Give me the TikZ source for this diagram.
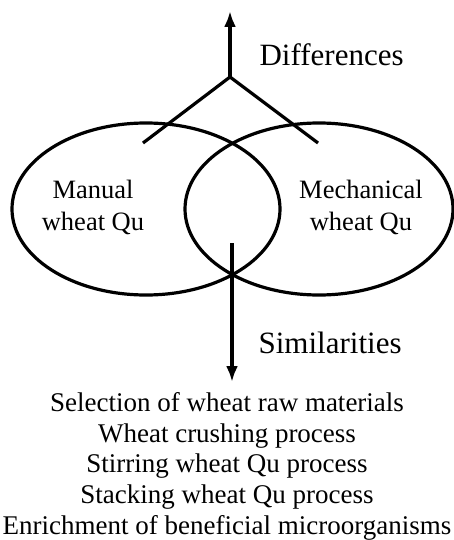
\documentclass[tikz,border=0pt]{standalone}
\usepackage{fontspec}
\setmainfont{Liberation Serif}
\usetikzlibrary{arrows.meta, positioning}

\begin{document}
\begin{tikzpicture}[x=1pt, y=-1pt, >={Latex[length=16pt, width=12pt]}, line width=3.2pt]
    \useasboundingbox (0,0) rectangle (454,540);
    \tikzset{
        headtext/.style={inner sep=0, anchor=base west, font=\fontsize{31}{31}\selectfont},
        qutext/.style={inner sep=0, align=center, font=\fontsize{26.5}{32}\selectfont},
        listtext/.style={inner sep=0, align=center, anchor=north, font=\fontsize{27}{30.6}\selectfont}
    }

    % Two overlapping ellipses
    \draw (146,209) ellipse [x radius=134, y radius=86];
    \draw (319,209) ellipse [x radius=134, y radius=86];
    \node[qutext] (manual) at (93,207) {Manual\\wheat Qu};
    \node[qutext] (mech) at (361,207) {Mechanical\\wheat Qu};

    % Fork and upward arrow (differences)
    \coordinate (fork) at (230,77);
    \coordinate (uptip) at (230,11);
    \coordinate (legL) at (143,143);
    \coordinate (legR) at (318,143);
    \draw (legL) -- (fork) -- (legR);
    \draw[->] (fork) -- (uptip);
    \node[headtext] (diff) at (258,66) {Differences};

    % Downward arrow (similarities)
    \coordinate (downstart) at (232,243);
    \coordinate (downtip) at (232,382);
    \draw[->] (downstart) -- (downtip);
    \node[headtext] (simi) at (257,353) {Similarities};

    % List of common steps
    \node[listtext] (steps) at (227,391) {Selection of wheat raw materials\\
        Wheat crushing process\\
        Stirring wheat Qu process\\
        Stacking wheat Qu process\\
        Enrichment of beneficial microorganisms};
\end{tikzpicture}
\end{document}
